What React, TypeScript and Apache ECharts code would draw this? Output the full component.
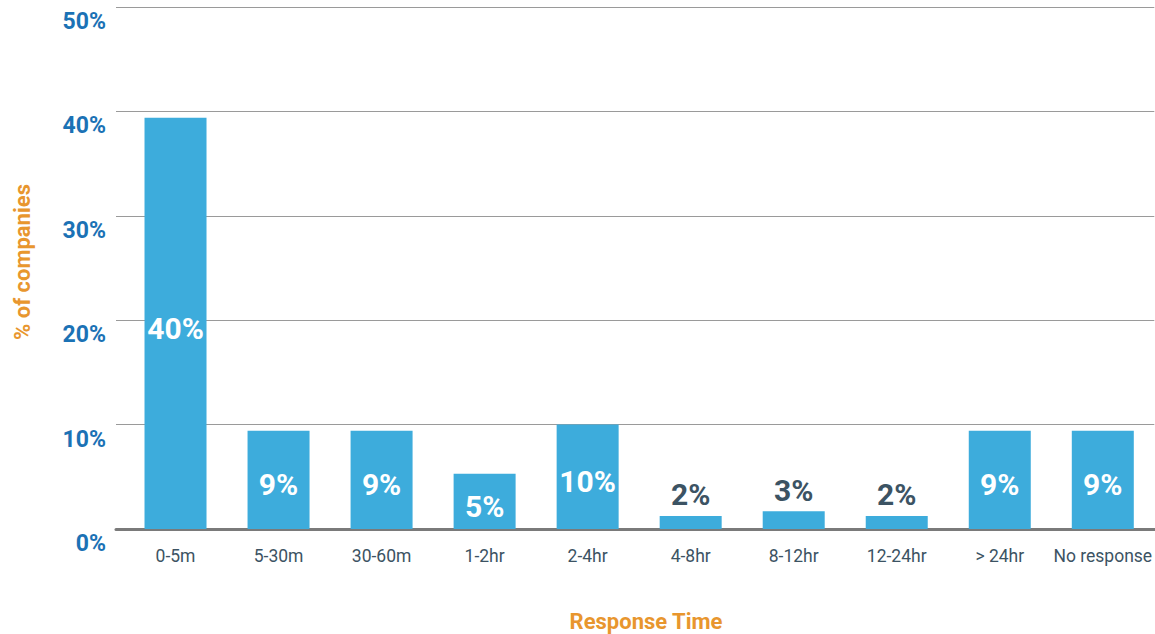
import React, { useEffect, useRef } from "react";
import * as echarts from "echarts";

const categories = ["0-5m", "5-30m", "30-60m", "1-2hr", "2-4hr", "4-8hr", "8-12hr", "12-24hr", "> 24hr", "No response"];
const values = [39.4, 9.4, 9.4, 5.3, 10, 1.25, 1.7, 1.25, 9.4, 9.4];
const valueLabels = ["40%", "9%", "9%", "5%", "10%", "2%", "3%", "2%", "9%", "9%"];
const yTicks = [0, 10, 20, 30, 40, 50];

const FONT = "Roboto, 'Noto Sans', sans-serif";
const BAR = "#3DACDC";
const DARK = "#3C5363";
const BLUE = "#1B72B5";
const ORANGE = "#E8962E";

export default function App() {
  const ref = useRef<HTMLDivElement>(null);
  useEffect(() => {
    if (!ref.current) return;
    const chart = echarts.init(ref.current, null, { renderer: "svg" });
    const data = values.map((v, i) => {
      const small = v < 4;
      return {
        value: v,
        label: {
          show: true,
          position: small ? "top" : "inside",
          distance: small ? 6 : 5,
          offset: small ? [0, 0] : [0, 5],
          color: small ? DARK : "#ffffff",
          formatter: () => valueLabels[i],
        },
      };
    });
    chart.setOption({
      animation: false,
      grid: [
        { left: 124, right: -2, top: 7, bottom: 105, containLabel: false },
        { left: 116, width: 8, top: 7, bottom: 105, containLabel: false },
      ],
      xAxis: [
        {
          type: "category",
          gridIndex: 0,
          data: categories,
          axisLine: { show: true, lineStyle: { color: "#7a7a7a", width: 3 } },
          axisTick: { show: false },
          axisLabel: { color: DARK, fontSize: 17.5, fontFamily: FONT, margin: 18, interval: 0 },
        },
        {
          type: "category",
          gridIndex: 1,
          data: [""],
          axisLine: { show: true, lineStyle: { color: "#7a7a7a", width: 3 } },
          axisTick: { show: false },
          axisLabel: { show: false },
        },
      ],
      yAxis: [
        {
          type: "value",
          gridIndex: 0,
          min: yTicks[0],
          max: yTicks[yTicks.length - 1],
          interval: 10,
          axisLine: { show: false },
          axisTick: { show: false },
          axisLabel: { show: false },
          splitLine: { show: true, lineStyle: { color: "#9a9a9a", width: 1 } },
        },
        {
          type: "value",
          gridIndex: 1,
          min: yTicks[0],
          max: yTicks[yTicks.length - 1],
          interval: 10,
          axisLine: { show: false },
          axisTick: { show: false },
          axisLabel: {
            show: true,
            formatter: (v: number) => v + "%",
            color: BLUE,
            fontSize: 23,
            fontWeight: "bold",
            fontFamily: FONT,
            margin: 10,
            verticalAlign: "top",
            padding: [3, 0, 0, 0],
          },
          splitLine: { show: true, lineStyle: { color: "#9a9a9a", width: 1 } },
        },
      ],
      series: [
        {
          type: "bar",
          xAxisIndex: 0,
          yAxisIndex: 0,
          data,
          barWidth: 62,
          itemStyle: { color: BAR },
          label: { fontSize: 30, fontWeight: "bold", fontFamily: FONT },
        },
      ],
      graphic: [
        {
          type: "text",
          x: 646,
          y: 621,
          style: {
            text: "Response Time",
            fill: ORANGE,
            font: `bold 22px ${FONT}`,
            textAlign: "center",
            textVerticalAlign: "middle",
          },
        },
        {
          type: "text",
          x: 22,
          y: 262,
          rotation: Math.PI / 2,
          style: {
            text: "% of companies",
            fill: ORANGE,
            font: `bold 22px ${FONT}`,
            textAlign: "center",
            textVerticalAlign: "middle",
          },
        },
      ],
    });
    return () => chart.dispose();
  }, []);
  return <div ref={ref} style={{ position: "absolute", left: 0, top: 0, width: 1155, height: 634 }} />;
}
